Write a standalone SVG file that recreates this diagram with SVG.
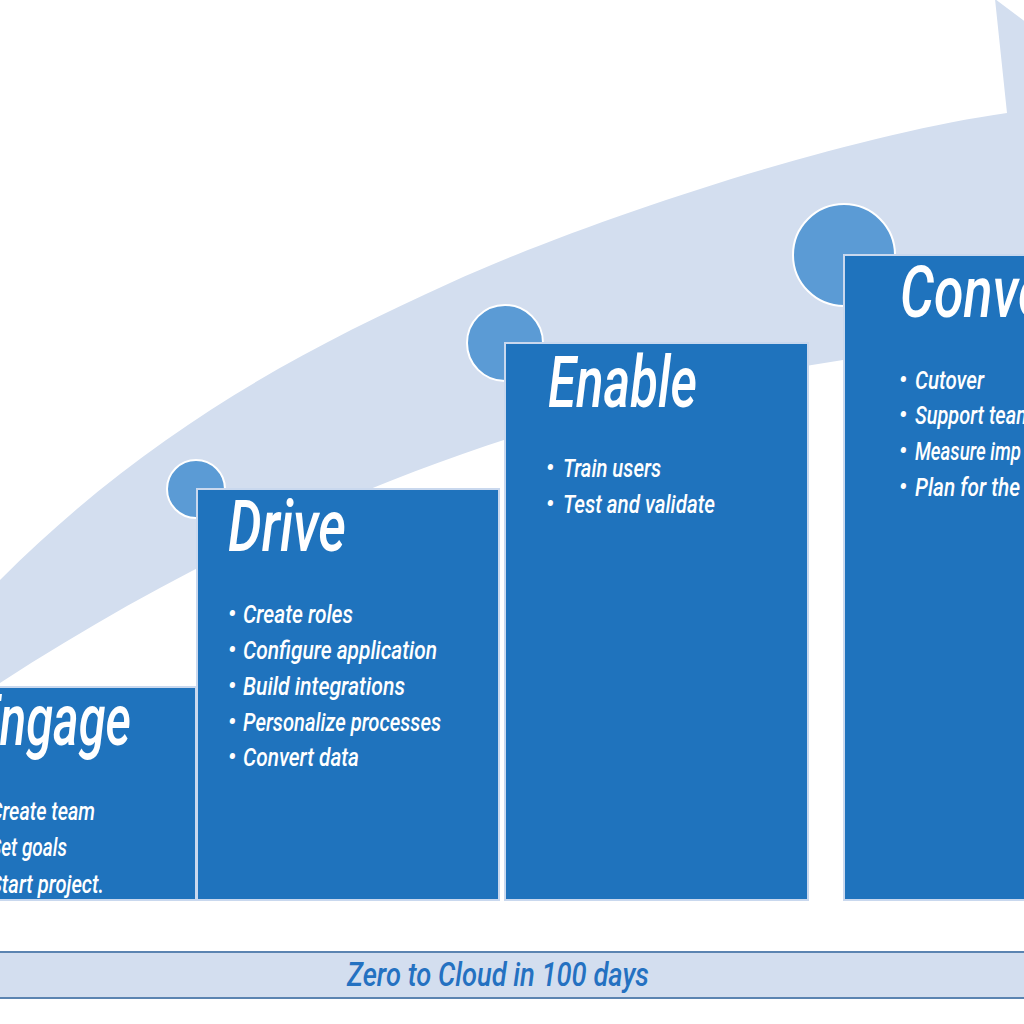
<svg xmlns="http://www.w3.org/2000/svg" width="1024" height="1024" viewBox="0 0 1024 1024">
  <style>
    .box { fill: #1F73BD; stroke: #C9D8EE; stroke-width: 2; }
    .dot { fill: #5B9BD5; stroke: #FFFFFF; stroke-width: 2; }
    .t { font-family: Roboto, "Liberation Sans", sans-serif; font-style: italic; font-weight: 500; fill: #FFFFFF; }
    .title { font-size: 72px; }
    .item { font-size: 25px; }
    .bul { font-size: 25px; text-anchor: middle; }
    .bar { fill: #D3DEEF; stroke: #5B84B1; stroke-width: 2; }
    .bartext { font-family: Roboto, "Liberation Sans", sans-serif; font-style: italic; font-weight: 500; font-size: 34px; fill: #2471C1; }
  </style>
  <rect width="1024" height="1024" fill="#FFFFFF"/>
  <g id="connectors">
    <path id="arrow" fill="#D3DEEF" d="M -40,620 L 0,580 C 150,430 300,351 450,283 C 600,215 850,135 1007,113 L 995,-1 L 1200,153 L 1045,480 L 1035,333 L 843,360 C 563,402 280,501 0,683 L -40,710 Z"/>
  </g>
  <g id="engage">
    <rect class="box" x="-60" y="687" width="256" height="213"/>
    <text class="t title" x="-27" y="745" textLength="158" lengthAdjust="spacingAndGlyphs">Engage</text>
    <text class="t bul" x="-22" y="820">•</text>
    <text class="t item" x="-10" y="820" textLength="105" lengthAdjust="spacingAndGlyphs">Create team</text>
    <text class="t bul" x="-22" y="856">•</text>
    <text class="t item" x="-10" y="856" textLength="77" lengthAdjust="spacingAndGlyphs">Set goals</text>
    <text class="t bul" x="-22" y="893">•</text>
    <text class="t item" x="-10" y="893" textLength="114" lengthAdjust="spacingAndGlyphs">Start project.</text>
  </g>
  <g id="drive">
    <circle class="dot" cx="196" cy="489" r="29"/>
    <rect class="box" x="197" y="489" width="302" height="411"/>
    <text class="t title" x="228" y="551" textLength="118" lengthAdjust="spacingAndGlyphs">Drive</text>
    <text class="t bul" x="232" y="623">•</text>
    <text class="t item" x="243" y="623" textLength="110" lengthAdjust="spacingAndGlyphs">Create roles</text>
    <text class="t bul" x="232" y="659">•</text>
    <text class="t item" x="243" y="659" textLength="194" lengthAdjust="spacingAndGlyphs">Configure application</text>
    <text class="t bul" x="232" y="695">•</text>
    <text class="t item" x="243" y="695" textLength="162" lengthAdjust="spacingAndGlyphs">Build integrations</text>
    <text class="t bul" x="232" y="731">•</text>
    <text class="t item" x="243" y="731" textLength="198" lengthAdjust="spacingAndGlyphs">Personalize processes</text>
    <text class="t bul" x="232" y="766">•</text>
    <text class="t item" x="243" y="766" textLength="116" lengthAdjust="spacingAndGlyphs">Convert data</text>
  </g>
  <g id="enable">
    <circle class="dot" cx="505" cy="343" r="38"/>
    <rect class="box" x="505" y="343" width="303" height="557"/>
    <text class="t title" x="548" y="407" textLength="149" lengthAdjust="spacingAndGlyphs">Enable</text>
    <text class="t bul" x="550" y="477">•</text>
    <text class="t item" x="563" y="477" textLength="98" lengthAdjust="spacingAndGlyphs">Train users</text>
    <text class="t bul" x="550" y="513">•</text>
    <text class="t item" x="563" y="513" textLength="152" lengthAdjust="spacingAndGlyphs">Test and validate</text>
  </g>
  <g id="converge">
    <circle class="dot" cx="844" cy="255" r="51"/>
    <rect class="box" x="844" y="255" width="303" height="645"/>
    <text class="t title" x="900" y="317" textLength="146" lengthAdjust="spacingAndGlyphs">Conve</text>
    <text class="t bul" x="903" y="389">•</text>
    <text class="t item" x="915" y="389" textLength="69" lengthAdjust="spacingAndGlyphs">Cutover</text>
    <text class="t bul" x="903" y="424">•</text>
    <text class="t item" x="915" y="424" textLength="118" lengthAdjust="spacingAndGlyphs">Support team</text>
    <text class="t bul" x="903" y="460">•</text>
    <text class="t item" x="915" y="460" textLength="106" lengthAdjust="spacingAndGlyphs">Measure imp</text>
    <text class="t bul" x="903" y="496">•</text>
    <text class="t item" x="915" y="496" textLength="105" lengthAdjust="spacingAndGlyphs">Plan for the</text>
  </g>
  <g id="timeline">
    <rect class="bar" x="-4" y="952" width="1032" height="46"/>
    <text class="bartext" x="347" y="986" textLength="302" lengthAdjust="spacingAndGlyphs">Zero to Cloud in 100 days</text>
  </g>
</svg>
